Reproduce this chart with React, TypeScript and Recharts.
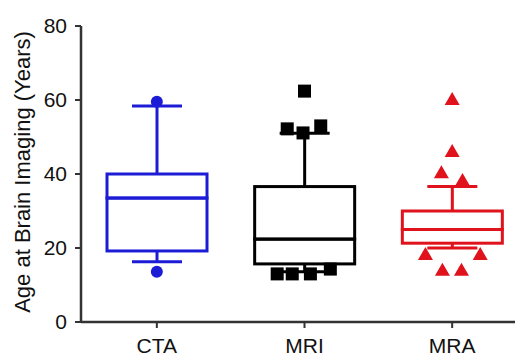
import React from 'react';
import { ComposedChart, Bar, Scatter, XAxis, YAxis } from 'recharts';

const categories = ['CTA', 'MRI', 'MRA'];
const whiskerLow = [16.3, 13.6, 20.0];
const q1 = [19.2, 15.7, 21.3];
const median = [33.5, 22.4, 25.0];
const q3 = [40.0, 36.6, 30.0];
const whiskerHigh = [58.4, 51.0, 36.6];
const yTicks = [0, 20, 40, 60, 80];

// outliers: x is the group position (1 = CTA, 2 = MRI, 3 = MRA), y is age
const ctaX = [1.0, 1.0];
const ctaY = [59.5, 13.6];
const mriX = [2.0, 1.883, 1.99, 2.11, 1.815, 1.917, 2.04, 2.175];
const mriY = [62.4, 52.2, 51.1, 53.0, 13.0, 13.0, 13.0, 14.3];
const mraX = [3.0, 3.0, 2.927, 3.07, 2.819, 3.19, 2.934, 3.063];
const mraY = [60.3, 46.2, 40.5, 38.4, 18.4, 18.4, 14.1, 14.1];

const colors = ['#1c1cd6', '#000000', '#e0121c'];
const font = '"Liberation Sans", Arial, sans-serif';
const axisColor = '#333';

const data = categories.map((name, i) => ({
  name,
  base: whiskerLow[i],
  lowWhisker: q1[i] - whiskerLow[i],
  lowBox: median[i] - q1[i],
  highBox: q3[i] - median[i],
  highWhisker: whiskerHigh[i] - q3[i],
}));

const toPoints = (xs: number[], ys: number[]) => xs.map((x, i) => ({ x, y: ys[i] }));

const colorOf = (p: any) => colors[categories.indexOf(p.payload?.name ?? p.name)];

const Empty = () => <g />;

const LowWhisker = (p: any) => {
  const cx = p.x + p.width / 2;
  const c = colorOf(p);
  const bottom = p.y + p.height;
  return (
    <g>
      <line x1={cx} x2={cx} y1={p.y} y2={bottom} stroke={c} strokeWidth={3} />
      <line x1={cx - 25} x2={cx + 25} y1={bottom} y2={bottom} stroke={c} strokeWidth={3} />
    </g>
  );
};

const HighWhisker = (p: any) => {
  const cx = p.x + p.width / 2;
  const c = colorOf(p);
  return (
    <g>
      <line x1={cx} x2={cx} y1={p.y} y2={p.y + p.height} stroke={c} strokeWidth={3} />
      <line x1={cx - 25} x2={cx + 25} y1={p.y} y2={p.y} stroke={c} strokeWidth={3} />
    </g>
  );
};

const BoxPart = (p: any) => (
  <rect x={p.x} y={p.y} width={p.width} height={p.height} fill="none" stroke={colorOf(p)} strokeWidth={3} />
);

const Dot = (p: any) => <circle cx={p.cx} cy={p.cy} r={6} fill={colors[0]} />;
const Square = (p: any) => <rect x={p.cx - 6.5} y={p.cy - 6.5} width={13} height={13} fill={colors[1]} />;
const Triangle = (p: any) => (
  <polygon points={`${p.cx},${p.cy - 7} ${p.cx + 7.5},${p.cy + 6} ${p.cx - 7.5},${p.cy + 6}`} fill={colors[2]} />
);

const YLabel = (props: any) => {
  const vb = props.viewBox;
  const x = 22;
  const y = vb.y + vb.height / 2 - 2;
  return (
    <text
      x={x}
      y={y}
      transform={`rotate(-90 ${x} ${y})`}
      textAnchor="middle"
      dominantBaseline="central"
      fontSize={22}
      fontFamily={font}
      fill="#111"
    >
      Age at Brain Imaging (Years)
    </text>
  );
};

export default function App() {
  return (
    <div style={{ position: 'absolute', left: 0, top: 0, width: 515, height: 356, overflow: 'hidden', background: '#fff' }}>
      <ComposedChart width={526} height={356} data={data} margin={{ top: 26, right: 0, left: 0, bottom: 0 }}>
        <XAxis
          xAxisId="cat"
          dataKey="name"
          type="category"
          padding={{ left: 2, right: 0 }}
          height={34}
          tickSize={6}
          tickMargin={10}
          axisLine={{ stroke: axisColor, strokeWidth: 2.5 }}
          tickLine={{ stroke: axisColor, strokeWidth: 2 }}
          tick={{ fill: '#111', fontSize: 21, fontFamily: font }}
        />
        <XAxis xAxisId="num" dataKey="x" type="number" domain={[0.5, 3.5]} padding={{ left: 2, right: 0 }} hide />
        <YAxis
          type="number"
          domain={[0, 80]}
          ticks={yTicks}
          width={81}
          tickSize={6}
          tickMargin={8}
          axisLine={{ stroke: axisColor, strokeWidth: 2.5 }}
          tickLine={{ stroke: axisColor, strokeWidth: 2 }}
          tick={{ fill: '#111', fontSize: 21, fontFamily: font }}
          label={<YLabel />}
        />
        <Bar xAxisId="cat" dataKey="base" stackId="box" barSize={100} shape={<Empty />} isAnimationActive={false} />
        <Bar xAxisId="cat" dataKey="lowWhisker" stackId="box" barSize={100} shape={<LowWhisker />} isAnimationActive={false} />
        <Bar xAxisId="cat" dataKey="lowBox" stackId="box" barSize={100} shape={<BoxPart />} isAnimationActive={false} />
        <Bar xAxisId="cat" dataKey="highBox" stackId="box" barSize={100} shape={<BoxPart />} isAnimationActive={false} />
        <Bar xAxisId="cat" dataKey="highWhisker" stackId="box" barSize={100} shape={<HighWhisker />} isAnimationActive={false} />
        <Scatter xAxisId="num" data={toPoints(ctaX, ctaY)} dataKey="y" shape={<Dot />} isAnimationActive={false} />
        <Scatter xAxisId="num" data={toPoints(mriX, mriY)} dataKey="y" shape={<Square />} isAnimationActive={false} />
        <Scatter xAxisId="num" data={toPoints(mraX, mraY)} dataKey="y" shape={<Triangle />} isAnimationActive={false} />
      </ComposedChart>
    </div>
  );
}
